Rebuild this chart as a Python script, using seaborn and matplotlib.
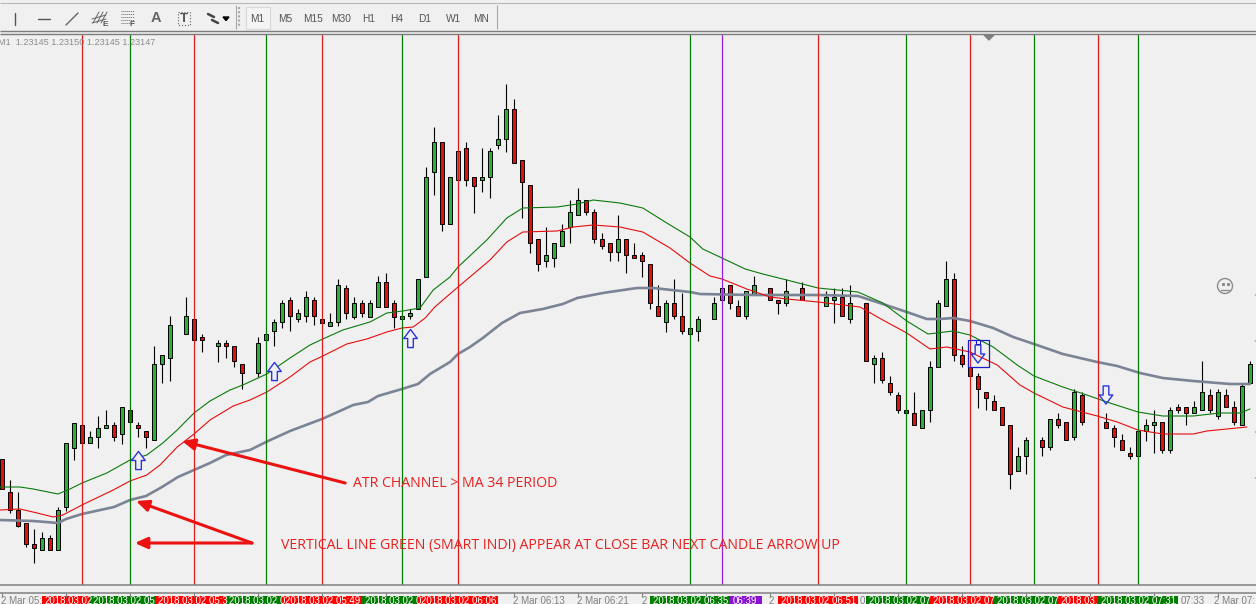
import numpy as np
import pandas as pd
import seaborn as sns
import matplotlib.pyplot as plt
from matplotlib.path import Path
from matplotlib.patches import Rectangle, Circle

n = np.nan

# candle levels: a smaller level means a higher price
# one entry per bar, n where the chart has no candle
body_top = [459, 492, 510, 523, 544, 538, 538, 510, 443, 423,
            425, 437, 428, 425, 425, 407, 410, 425, 431, 364,
            355, 325, n, 316, 319, 337, n, 343, 343, 346,
            364, n, 343, 334, 322, 303, 300, 313, 297, 300,
            319, 322, 285, 288, 303, 303, 303, 282, 282, 303,
            316, 313, 279, 177, 142, 142, 177, 151, 148, 177,
            177, 151, 139, 109, 109, 160, 185, 239, 255, 243,
            231, 212, 200, 200, 212, 239, 243, 239, 239, 255,
            255, 264, 306, 303, 303, 316, 328, 319, n, 303,
            288, 285, 306, 291, 285, n, 288, 300, 291, n,
            288, n, n, 297, 297, 297, 303, n, 303, 358,
            358, 383, 395, 410, 413, 410, 367, 303, 279, 279,
            355, 367, 376, 392, 401, 407, 425, 456, 440, n,
            440, 419, 419, 422, 392, 395, n, n, 422, 428,
            440, 453, 431, 425, 422, 422, 410, 407, 407, 407,
            392, 395, 392, 395, 407, 386, 364]
body_bottom = [489, 510, 526, 544, 548, 550, 550, 550, 507, 448,
               443, 443, 437, 428, 437, 434, 422, 428, 437, 440,
               364, 358, n, 334, 340, 340, n, 346, 346, 361,
               373, n, 373, 340, 331, 322, 316, 319, 316, 316,
               323, 326, 322, 313, 317, 313, 317, 307, 307, 317,
               319, 316, 309, 277, 172, 224, 224, 180, 180, 186,
               180, 177, 145, 139, 163, 182, 243, 264, 261, 258,
               246, 227, 215, 212, 239, 246, 252, 252, 255, 258,
               261, 303, 316, 322, 316, 331, 334, 331, n, 319,
               300, 303, 316, 316, 294, n, 300, 303, 303, n,
               300, n, n, 306, 300, 316, 319, n, 361, 364,
               380, 392, 410, 413, 425, 428, 410, 367, 306, 355,
               364, 376, 389, 398, 410, 425, 474, 471, 456, n,
               447, 447, 425, 440, 437, 422, n, n, 428, 437,
               450, 456, 456, 431, 425, 450, 450, 410, 413, 413,
               410, 410, 416, 407, 422, 425, 383]
wick_high = [459, 480, 492, 523, 529, 532, 535, 507, 443, 423,
             425, 431, 416, 410, 422, 407, 410, 422, 431, 346,
             355, 316, n, 297, 319, 334, n, 340, 340, 346,
             364, n, 337, 334, 319, 300, 297, 309, 291, 297,
             319, 313, 279, 285, 297, 300, 300, 276, 273, 300,
             316, 309, 279, 167, 127, 142, 177, 151, 142, 177,
             148, 148, 115, 84, 99, 160, 185, 239, 227, 243,
             224, 200, 188, 200, 209, 233, 243, 215, 239, 243,
             252, 264, 285, 300, 279, 293, 328, 316, n, 297,
             288, 285, 300, 291, 276, n, 288, 300, 279, n,
             282, n, n, 291, 288, 288, 285, n, 303, 355,
             352, 376, 392, 410, 392, 410, 361, 300, 261, 273,
             346, 367, 373, 392, 395, 407, 425, 447, 437, n,
             437, 419, 413, 422, 389, 392, n, n, 413, 425,
             434, 447, 431, 419, 410, 422, 407, 404, 407, 401,
             361, 389, 389, 389, 401, 383, 361]
wick_low = [489, 513, 527, 547, 563, 550, 550, 550, 511, 460,
            443, 443, 448, 428, 441, 444, 422, 437, 448, 440,
            383, 381, n, 334, 340, 352, n, 362, 358, 367,
            389, n, 377, 340, 346, 328, 331, 322, 322, 325,
            323, 326, 326, 319, 319, 317, 317, 307, 307, 328,
            319, 319, 309, 277, 195, 231, 224, 180, 186, 213,
            192, 198, 149, 152, 163, 218, 253, 271, 267, 267,
            246, 243, 215, 215, 243, 249, 261, 261, 273, 258,
            277, 309, 316, 332, 319, 334, 334, 341, n, 319,
            300, 309, 316, 319, 294, n, 300, 314, 306, n,
            300, n, n, 306, 323, 316, 323, n, 361, 383,
            383, 395, 413, 413, 425, 428, 422, 367, 306, 361,
            367, 376, 408, 410, 410, 425, 489, 471, 474, n,
            456, 450, 428, 440, 440, 425, n, n, 428, 447,
            450, 459, 456, 441, 453, 453, 453, 413, 425, 413,
            410, 413, 419, 407, 425, 425, 383]
# g up, r down, x the grey bar under the purple line, - no candle
candle_dir = ("rrrrrgrggg" "rgggrgrrrg" "gg-grr-grr" "r-ggggrggr" "rggrgrggrr"
              "gggggrggrr" "ggggrrrrgg" "gggrrrrgrr" "rrrgrrgg-g" "xrrgg-rrg-"
              "r--ggrg-rg" "rrrrrggggr" "rrrrrrrgg-" "rgrrgr--rr" "rrgggrgrrg"
              "grgrrgg")

# moving averages, read at irregular bars
upper_bars = [-0.25, 2.25, 3.9, 7, 8.5, 10, 13.1, 16, 18.1, 20.1, 21.9, 24, 26, 28.5, 30.1,
              33.1, 36, 38.5, 40.1, 42.6, 46, 48.1, 50.1, 52.25, 53.9, 56, 57, 60.6, 63.1,
              65.1, 69.4, 71.9, 73.9, 77.25, 80.1, 83.1, 86, 87.6, 90, 92.9, 95.1, 98.1,
              102, 107, 110.1, 113.1, 115.75, 118.9, 121, 123.9, 126.9, 129, 132.6, 135.6,
              138.1, 142, 145.1, 148.9, 152.25, 154.75, 156]
upper_levels = [487, 487, 489, 494, 489, 483, 473, 460, 455, 443, 430, 413, 401, 390, 385,
                374, 358, 345, 339, 330, 322, 313, 311, 308, 290, 277, 267, 240, 218,
                208, 207, 204, 200, 203, 208, 223, 237, 249, 258, 269, 274, 280,
                288, 292, 303, 321, 334, 331, 335, 347, 365, 376, 387, 395,
                402, 412, 416, 416, 413, 413, 409]
lower_bars = [-0.25, 2.25, 4.4, 6.4, 7.6, 10, 13.9, 16, 18.1, 19.75, 21.9, 24, 26, 28.9, 31,
              33.1, 36, 38.5, 40.1, 43.1, 45.6, 48.1, 50, 51.4, 52.9, 54.1, 57, 61, 63.1,
              65.1, 69.4, 71.4, 73.9, 77.25, 80.1, 83.5, 86, 88.5, 90, 93.1, 96, 98.1,
              102, 107.25, 110.1, 113.1, 116, 118.1, 121, 124.4, 127.25, 129, 132.6, 136.9,
              139.4, 142, 145.1, 148.9, 150.6, 155.6]
lower_levels = [510, 509, 513, 517, 515, 505, 490, 481, 475, 465, 447, 434, 420, 406, 400,
                392, 377, 362, 356, 344, 339, 332, 328, 327, 318, 307, 287, 260, 242,
                232, 231, 227, 225, 227, 232, 248, 263, 276, 279, 289, 297, 299,
                302, 307, 320, 333, 349, 347, 352, 365, 385, 393, 407, 416,
                422, 430, 434, 434, 431, 427]
slow_bars = [-0.25, 3.9, 7, 8, 10, 14, 16, 18, 20, 22, 24, 26, 28, 31, 33, 36, 40, 43.9, 45.75,
             47, 50, 52, 53.5, 56, 57, 58.5, 60.1, 62.5, 64.75, 67.6, 70.1, 71.9, 75.1, 78.5,
             79.4, 81.4, 86, 87.25, 93.9, 102.25, 107, 110.1, 113.1, 115.6, 117.25, 118.9,
             121, 123.9, 126.4, 129, 132.6, 136.9, 139.4, 142.25, 145.1, 148.9, 153.5, 156]
slow_levels = [520, 521, 523, 519, 514, 507, 500, 496, 487, 477, 470, 463, 455, 450, 442, 431,
               419, 405, 402, 396, 389, 384, 374, 362, 354, 347, 338, 323, 313, 309, 304, 298,
               293, 289, 288, 288, 292, 294, 295, 295, 296, 304, 312, 319, 319, 318,
               321, 328, 337, 344, 354, 362, 366, 373, 378, 381, 384, 384]

# indicator lines and signals
red_lines = [10, 24, 40, 57, 102, 121, 137]
green_lines = [16, 33, 50, 86, 113, 129, 142]
purple_lines = [90]
up_bars = [17, 34, 51]
up_levels = [460, 371, 338]
down_bars = [122, 138]
down_levels = [354, 395]

# time axis
tick_px = list(range(2, 1256, 64))
strip_spans = [(42, 90), (90, 155), (155, 226), (226, 282), (282, 362), (362, 418), (418, 498),
               (650, 730), (730, 762), (778, 858), (866, 930), (930, 994), (994, 1058),
               (1058, 1098), (1098, 1178)]
strip_kinds = ["r", "g", "r", "g", "r", "g", "r", "g", "p", "r", "g", "r", "g", "r", "g"]
strip_texts = ["2018.03.02", "2018.03.02 05", "2018.03.02 05:3", "2018.03.02 0", "2018.03.02 05:49",
               "2018.03.02 0", "2018.03.02 06:06", "2018.03.02 06:35", "06:39", "2018.03.02 06:51",
               "2018.03.02 07", "2018.03.02 07", "2018.03.02 07", "2018.03.", "2018.03.02 07:31"]
time_px = [1, 513, 577, 642, 769, 860, 1181, 1214]
time_texts = ["2 Mar 05:", "2 Mar 06:13", "2 Mar 06:21", "2", "2", "0", "07:33", "2 Mar 07:"]
timeframes = ["M1", "M5", "M15", "M30", "H1", "H4", "D1", "W1", "MN"]
timeframe_px = [257, 285, 313, 341, 369, 397, 425, 454, 481]

BG = "#f0f0f0"
RED = "#e60d0d"
GREEN = "#097a09"
CANDLE_COLORS = {"g": "#2fae3a", "r": "#e20f0f", "x": "#7f8ea6"}
STRIP_COLORS = {"r": "#ff0000", "g": "#007c00", "p": "#8a14d2"}

sns.set_theme(style="white", rc={"figure.facecolor": BG, "axes.facecolor": BG, "font.family": "Liberation Sans"})

fig = plt.figure(figsize=(12.56, 6.04), dpi=100)
ax = fig.add_axes([0, 19 / 604, 1, 550 / 604])
ax.set_xlim(-0.25, 156.75)
ax.set_ylim(585, 35)
ax.set_axis_off()

candles = pd.DataFrame({"bar": np.arange(len(body_top)), "top": body_top, "bottom": body_bottom,
                        "high": wick_high, "low": wick_low, "dir": list(candle_dir)})
candles = candles[candles["dir"] != "-"]

ax.vlines(candles["bar"], candles["high"], candles["low"], color="black", lw=0.8, zorder=2)
ax.bar(candles["bar"], candles["bottom"] - candles["top"], bottom=candles["top"], width=0.6,
       color=[CANDLE_COLORS[d] for d in candles["dir"]], edgecolor="black", linewidth=0.7, zorder=3)

sns.lineplot(x=slow_bars, y=slow_levels, color="#7b8494", linewidth=1.9, sort=False, estimator=None, ax=ax, zorder=4)
sns.lineplot(x=upper_bars, y=upper_levels, color="#0c7a0c", linewidth=0.8, sort=False, estimator=None, ax=ax, zorder=4)
sns.lineplot(x=lower_bars, y=lower_levels, color=RED, linewidth=0.8, sort=False, estimator=None, ax=ax, zorder=4)

for b in red_lines:
    ax.axvline(b, color="#dc1c1c", lw=0.9, zorder=5)
for b in green_lines:
    ax.axvline(b, color=GREEN, lw=0.9, zorder=5)
for b in purple_lines:
    ax.axvline(b, color="#9a1fd8", lw=0.9, zorder=5)

# hollow signal arrows, the path y axis points up on screen
up_arrow = Path([(-2.5, -8), (2.5, -8), (2.5, 0), (6, 0), (0, 8), (-6, 0), (-2.5, 0), (-2.5, -8)], closed=True)
down_arrow = Path([(-2.5, 8), (2.5, 8), (2.5, 0), (6, 0), (0, -8), (-6, 0), (-2.5, 0), (-2.5, 8)], closed=True)
sns.scatterplot(x=up_bars, y=up_levels, marker=up_arrow, s=170, color=BG, edgecolor="#2a35e0", linewidth=1.0, ax=ax, zorder=6)
sns.scatterplot(x=down_bars, y=down_levels, marker=down_arrow, s=170, color="none", edgecolor="#2a35e0", linewidth=1.0, ax=ax, zorder=6)

# selection box on the first down arrow
ax.add_patch(Rectangle((120.75, 340), 2.6, 27, fill=False, edgecolor="#1a1ac8", lw=0.9, zorder=7))
ax.add_patch(Rectangle((121.75, 340), 0.5, 4, facecolor=BG, edgecolor="#1a1ac8", lw=0.8, zorder=7))

# hand drawn arrows and notes
arrow_style = dict(arrowstyle="-|>,head_length=0.62,head_width=0.28", color="#ec1212", lw=2.2, shrinkA=0, shrinkB=0)
ax.annotate("", xy=(22.5, 441), xytext=(42.9, 483), arrowprops=arrow_style, zorder=8)
ax.annotate("", xy=(16.75, 501), xytext=(31.25, 543), arrowprops=arrow_style, zorder=8)
ax.annotate("", xy=(16.6, 543), xytext=(31.25, 543), arrowprops=arrow_style, zorder=8)
ax.text(43.9, 483.5, "ATR CHANNEL > MA 34 PERIOD", color="#e82020", fontsize=10.2, family="Open Sans", va="center", zorder=8)
ax.text(34.9, 545, "VERTICAL LINE GREEN (SMART INDI) APPEAR AT CLOSE BAR NEXT CANDLE ARROW UP",
        color="#e82020", fontsize=10.2, family="Open Sans", va="center", zorder=8)

# everything around the chart, in screen pixels
ui = fig.add_axes([0, 0, 1, 1], zorder=10)
ui.set_xlim(0, 1256)
ui.set_ylim(604, 0)
ui.set_axis_off()
ui.patch.set_alpha(0)

ui.hlines([3], 0, 1256, color="#b8b8b8", lw=0.8)
ui.hlines([31, 34], 0, 1256, color="#7c7c7c", lw=1.0)
ui.hlines([585, 593], 0, 1256, color="#808080", lw=1.1)
ui.vlines(tick_px, 593, 597, color="#808080", lw=0.8)
ui.vlines([1255] * 4, [294, 340, 431, 477], [295, 341, 432, 478], color="#808080", lw=1)

# drawing tools
ui.plot([15, 15], [13, 25], color="#555555", lw=1)
ui.plot([38, 50], [18.5, 18.5], color="#555555", lw=1)
ui.plot([66, 78], [25, 13], color="#666666", lw=1)
for dx in (0, 4, 8):
    ui.plot([93 + dx, 99 + dx], [23, 12], color="#666666", lw=0.7)
ui.plot([92, 106], [19, 15], color="#666666", lw=0.7)
ui.plot([92, 106], [23, 19], color="#666666", lw=0.7)
ui.text(105, 24.5, "E", fontsize=6, color="#555555", ha="center", va="center", fontweight="bold")
for gy in (11, 14, 17, 20, 23):
    ui.plot([121, 134], [gy, gy], color="#666666", lw=0.7, ls=(0, (1, 1)))
ui.text(132.5, 24.5, "F", fontsize=6, color="#555555", ha="center", va="center", fontweight="bold")
ui.text(155.5, 18.5, "A", fontsize=10.5, color="#666666", ha="center", va="center", fontweight="bold")
ui.add_patch(Rectangle((178, 12), 12, 13, fill=False, edgecolor="#666666", lw=0.8, ls=":"))
ui.text(184, 18.5, "T", fontsize=9.5, color="#555555", ha="center", va="center", fontweight="bold")
ui.plot([208, 214], [14, 17], color="#444444", lw=1.8)
ui.plot([212, 218], [20, 23], color="#444444", lw=1.8)
ui.fill([223, 229, 226], [17, 17, 20.5], color="black")

# timeframe buttons
ui.add_patch(Rectangle((245.5, 6.5), 24.5, 22, facecolor="#f4f4f4", edgecolor="#d8d8d8", lw=0.8))
ui.vlines([236, 497], 5, 29, color="#a8a8a8", lw=0.8)
ui.vlines(239, 7, 27, color="#a8a8a8", lw=1.5, ls=(0, (1, 1)))
for label, px in zip(timeframes, timeframe_px):
    ui.text(px, 18.5, label, fontsize=7.3, color="#555555", ha="center", va="center")

ui.text(-2, 42.5, "M1  1.23145 1.23150 1.23145 1.23147", fontsize=6.6, color="#8c8c8c", va="center")
ui.fill([984, 994, 989], [35, 35, 40], color="#808080")

# smiley
ui.add_patch(Circle((1225, 286), 7.5, fill=False, edgecolor="#8c8c8c", lw=1))
ui.plot([1222.5], [283.5], "s", color="#8c8c8c", ms=1.2)
ui.plot([1227.5], [283.5], "s", color="#8c8c8c", ms=1.2)
ui.plot([1221, 1229], [290, 290], color="#8c8c8c", lw=1)

# time labels, the screen ends through them
for (x0, x1), kind, label in zip(strip_spans, strip_kinds, strip_texts):
    cell = Rectangle((x0, 596), x1 - x0, 8, facecolor=STRIP_COLORS[kind], edgecolor="none")
    ui.add_patch(cell)
    t = ui.text(x0 + 3, 601, label, color="white", fontsize=7, va="center")
    t.set_clip_path(cell)
for px, label in zip(time_px, time_texts):
    ui.text(px, 601, label, color="#808080", fontsize=7, va="center")

fig.savefig("out.png", dpi=100)
